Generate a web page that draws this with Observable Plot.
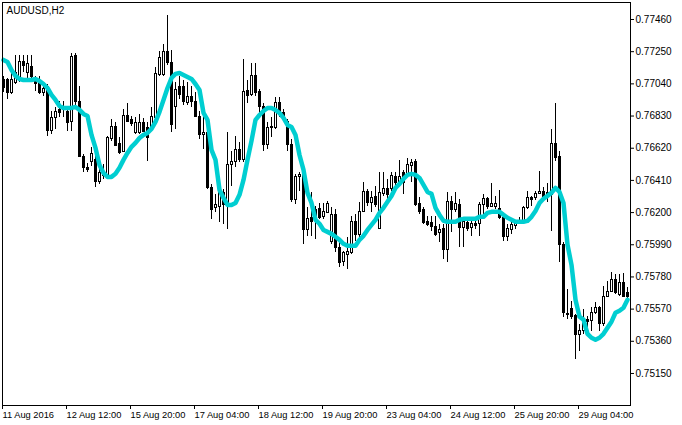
<!DOCTYPE html>
<html><head><meta charset="utf-8">
<script src="https://cdn.jsdelivr.net/npm/d3@7"></script>
<script src="https://cdn.jsdelivr.net/npm/@observablehq/plot@0.6"></script>
<style>html,body{margin:0;padding:0;background:#fff;}</style>
</head><body><div id="chart"></div>
<script>
const symbol = "AUDUSD,H2";
const open = [
0.77065,0.77065,0.76981,0.77046,0.77072,0.77183,0.77111,0.77150,0.77052,0.77046,
0.76981,0.77020,0.76733,0.76818,0.76870,0.76870,0.76857,0.76792,0.77222,0.76922,
0.76563,0.76492,0.76531,0.76544,0.76400,0.76440,0.76433,0.76681,0.76759,0.76648,
0.76596,0.76831,0.76805,0.76720,0.76720,0.76785,0.76752,0.76759,0.76818,0.77098,
0.77098,0.77248,0.77176,0.76889,0.77020,0.77020,0.76915,0.76955,0.76922,0.76824,
0.76707,0.76720,0.76361,0.76231,0.76237,0.76329,0.76250,0.76511,0.76531,0.76609,
0.76544,0.76994,0.76968,0.77091,0.76987,0.76889,0.76642,0.76752,0.76752,0.76915,
0.76850,0.76792,0.76642,0.76283,0.76433,0.76446,0.76087,0.76166,0.76218,0.76224,
0.76172,0.76198,0.76009,0.76185,0.75970,0.75879,0.75924,0.75937,0.76140,0.76055,
0.76205,0.76335,0.76263,0.76303,0.76094,0.76322,0.76355,0.76355,0.76433,0.76394,
0.76459,0.76446,0.76505,0.76531,0.76257,0.76218,0.76140,0.76133,0.76107,0.76068,
0.76094,0.75957,0.76270,0.76218,0.76250,0.76100,0.76133,0.76100,0.76127,0.76127,
0.76250,0.76290,0.76237,0.76237,0.76224,0.76166,0.76042,0.76087,0.76114,0.76140,
0.76140,0.76231,0.76296,0.76296,0.76322,0.76335,0.76329,0.76316,0.76648,0.76563,
0.75990,0.75533,0.75572,0.75527,0.75403,0.75429,0.75501,0.75494,0.75546,0.75579,
0.75475,0.75651,0.75683,0.75761,0.75664,0.75742,0.75677];
const high = [
0.77085,0.77078,0.77118,0.77228,0.77228,0.77228,0.77228,0.77228,0.77091,0.77085,
0.77020,0.77033,0.76857,0.76889,0.76922,0.76922,0.76889,0.77241,0.77241,0.77020,
0.76576,0.76518,0.76622,0.76609,0.76485,0.76511,0.76694,0.76805,0.76785,0.76687,
0.76870,0.76909,0.76824,0.76818,0.76837,0.76811,0.76785,0.76889,0.77144,0.77248,
0.77294,0.77489,0.77261,0.77052,0.77085,0.77065,0.77046,0.77020,0.76981,0.76857,
0.76824,0.76752,0.76381,0.76316,0.76400,0.76348,0.76720,0.76596,0.76694,0.76655,
0.77196,0.77065,0.77176,0.77170,0.77000,0.76915,0.76785,0.76818,0.76948,0.76948,
0.76870,0.76805,0.76674,0.76446,0.76459,0.76459,0.76231,0.76329,0.76237,0.76257,
0.76257,0.76270,0.76231,0.76218,0.76022,0.75944,0.76035,0.76172,0.76185,0.76263,
0.76394,0.76348,0.76335,0.76368,0.76459,0.76459,0.76413,0.76459,0.76459,0.76537,
0.76472,0.76550,0.76544,0.76544,0.76296,0.76231,0.76172,0.76172,0.76172,0.76120,
0.76120,0.76329,0.76303,0.76329,0.76283,0.76166,0.76153,0.76140,0.76153,0.76263,
0.76316,0.76296,0.76387,0.76303,0.76342,0.76172,0.76120,0.76140,0.76146,0.76166,
0.76237,0.76335,0.76303,0.76335,0.76466,0.76361,0.76387,0.76739,0.76915,0.76596,
0.76003,0.75696,0.75618,0.75533,0.75468,0.75566,0.75520,0.75579,0.75611,0.75585,
0.75716,0.75748,0.75807,0.75794,0.75794,0.75801,0.75709];
const low = [
0.76981,0.76935,0.76968,0.77033,0.77046,0.77111,0.77072,0.77052,0.76987,0.76968,
0.76955,0.76694,0.76707,0.76739,0.76818,0.76818,0.76726,0.76726,0.76889,0.76557,
0.76459,0.76459,0.76498,0.76361,0.76381,0.76413,0.76426,0.76661,0.76629,0.76576,
0.76589,0.76785,0.76765,0.76707,0.76707,0.76720,0.76531,0.76739,0.76805,0.77085,
0.77085,0.77157,0.76720,0.76739,0.76935,0.76902,0.76902,0.76883,0.76818,0.76674,
0.76609,0.76348,0.76153,0.76198,0.76133,0.76120,0.76087,0.76368,0.76492,0.76524,
0.76524,0.76915,0.76955,0.76955,0.76824,0.76596,0.76609,0.76687,0.76739,0.76818,
0.76805,0.76596,0.76263,0.76250,0.76335,0.75990,0.76042,0.76042,0.76022,0.76153,
0.76153,0.76192,0.75990,0.75937,0.75840,0.75846,0.75827,0.75924,0.76009,0.76009,
0.76198,0.76237,0.76198,0.76231,0.76087,0.76303,0.76263,0.76335,0.76361,0.76381,
0.76316,0.76433,0.76394,0.76237,0.76185,0.76120,0.76107,0.76074,0.76042,0.76003,
0.75892,0.75872,0.76068,0.76198,0.75970,0.75970,0.76074,0.76042,0.76087,0.76042,
0.76153,0.76218,0.76231,0.76218,0.76153,0.76009,0.76009,0.76055,0.76087,0.76120,
0.76133,0.76218,0.76237,0.76277,0.76316,0.76283,0.76263,0.76074,0.76531,0.75872,
0.75514,0.75501,0.75501,0.75240,0.75292,0.75403,0.75390,0.75423,0.75533,0.75423,
0.75455,0.75644,0.75677,0.75664,0.75651,0.75644,0.75618];
const close = [
0.77013,0.76981,0.77065,0.77111,0.77183,0.77157,0.77170,0.77085,0.77039,0.76981,
0.77007,0.76733,0.76818,0.76857,0.76850,0.76889,0.76785,0.77215,0.76922,0.76563,
0.76492,0.76479,0.76583,0.76400,0.76459,0.76459,0.76687,0.76759,0.76635,0.76589,
0.76831,0.76792,0.76779,0.76785,0.76785,0.76726,0.76687,0.76824,0.77105,0.77209,
0.77248,0.77176,0.76772,0.76999,0.76968,0.76922,0.76955,0.76922,0.76824,0.76707,
0.76720,0.76361,0.76218,0.76250,0.76329,0.76250,0.76511,0.76531,0.76609,0.76544,
0.76987,0.76961,0.77091,0.76981,0.76889,0.76642,0.76752,0.76759,0.76915,0.76857,
0.76811,0.76642,0.76283,0.76433,0.76446,0.76087,0.76159,0.76140,0.76159,0.76166,
0.76205,0.76257,0.76185,0.75970,0.75872,0.75937,0.75944,0.76140,0.76055,0.76205,
0.76335,0.76263,0.76296,0.76250,0.76329,0.76355,0.76316,0.76440,0.76394,0.76433,
0.76394,0.76511,0.76524,0.76250,0.76205,0.76133,0.76120,0.76107,0.76055,0.76087,
0.75957,0.76270,0.76218,0.76257,0.76100,0.76140,0.76094,0.76127,0.76114,0.76250,
0.76290,0.76237,0.76257,0.76257,0.76166,0.76042,0.76094,0.76120,0.76133,0.76146,
0.76231,0.76296,0.76283,0.76322,0.76335,0.76290,0.76303,0.76648,0.76557,0.75990,
0.75546,0.75540,0.75520,0.75403,0.75429,0.75501,0.75488,0.75546,0.75579,0.75475,
0.75651,0.75683,0.75761,0.75677,0.75742,0.75651,0.75651];
const ma = [
0.77196,0.77183,0.77131,0.77092,0.77072,0.77065,0.77065,0.77065,0.77072,0.77059,
0.77039,0.77013,0.76968,0.76935,0.76896,0.76883,0.76883,0.76883,0.76889,0.76870,
0.76844,0.76831,0.76707,0.76622,0.76511,0.76459,0.76433,0.76433,0.76453,0.76492,
0.76544,0.76589,0.76629,0.76655,0.76687,0.76707,0.76720,0.76746,0.76792,0.76857,
0.76935,0.77013,0.77078,0.77105,0.77111,0.77098,0.77085,0.77072,0.77039,0.77000,
0.76850,0.76805,0.76609,0.76544,0.76348,0.76296,0.76250,0.76250,0.76263,0.76316,
0.76413,0.76544,0.76668,0.76805,0.76837,0.76863,0.76883,0.76883,0.76870,0.76850,
0.76818,0.76772,0.76759,0.76707,0.76576,0.76479,0.76329,0.76263,0.76153,0.76127,
0.76087,0.76074,0.76061,0.76042,0.76022,0.75996,0.75983,0.75983,0.75983,0.76022,
0.76048,0.76087,0.76120,0.76153,0.76198,0.76231,0.76270,0.76309,0.76361,0.76387,
0.76420,0.76446,0.76453,0.76446,0.76426,0.76381,0.76335,0.76322,0.76231,0.76185,
0.76146,0.76140,0.76140,0.76140,0.76153,0.76159,0.76159,0.76159,0.76159,0.76172,
0.76172,0.76198,0.76205,0.76205,0.76205,0.76185,0.76166,0.76153,0.76140,0.76140,
0.76140,0.76146,0.76172,0.76211,0.76263,0.76290,0.76309,0.76329,0.76361,0.76335,
0.76263,0.75990,0.75859,0.75631,0.75520,0.75501,0.75409,0.75383,0.75370,0.75383,
0.75409,0.75449,0.75488,0.75546,0.75559,0.75579,0.75631];
const priceTicks = [0.77460,0.77250,0.77040,0.76830,0.76620,0.76410,0.76200,0.75990,0.75780,0.75570,0.75360,0.75150];
const timeTickBars = [0,16,32,48,64,80,96,112,128,144];
const timeTickLabels = ["11 Aug 2016","12 Aug 12:00","15 Aug 20:00","17 Aug 04:00","18 Aug 12:00","19 Aug 20:00","23 Aug 04:00","24 Aug 12:00","25 Aug 20:00","29 Aug 04:00"];

const bars = open.map((o, i) => ({i, open: o, high: high[i], low: low[i], close: close[i], ma: ma[i]}));
const font = "'Liberation Sans', Arial, sans-serif";

const chart = Plot.plot({
  width: 682, height: 425,
  marginLeft: 2, marginRight: 52, marginTop: 2, marginBottom: 20,
  style: {fontFamily: font, fontSize: "10px", background: "#fff", color: "#000", overflow: "visible"},
  x: {type: "linear", domain: [-0.25, 156.75]},
  y: {domain: [0.74941, 0.77571]},
  marks: [
    Plot.ruleX(bars, {x: "i", y1: "low", y2: "high", stroke: "#000", strokeWidth: 1, shapeRendering: "crispEdges"}),
    Plot.rect(bars, {x1: d => d.i - 0.25, x2: d => d.i + 0.25, y1: "open", y2: "close",
      fill: d => d.close >= d.open ? "#fff" : "#000", stroke: "#000", strokeWidth: 1, shapeRendering: "crispEdges"}),
    Plot.line(bars, {x: "i", y: "ma", stroke: "#00CED1", strokeWidth: 4.5, strokeLinejoin: "round"}),
    Plot.axisY({anchor: "right", ticks: priceTicks, tickFormat: d => d.toFixed(5), tickSize: 3, tickPadding: 2, label: null, fontSize: 10}),
    Plot.axisX({ticks: timeTickBars, tickFormat: i => timeTickLabels[timeTickBars.indexOf(i)], tickSize: 4, tickPadding: 2, textAnchor: "start", dx: -1, label: null, fontSize: 9.3}),
    Plot.frame({stroke: "#000", shapeRendering: "crispEdges"}),
    Plot.text([symbol], {frameAnchor: "top-left", dx: 4, dy: 4, lineAnchor: "top", textAnchor: "start", fontSize: 10, fill: "#000"})
  ]
});
document.getElementById("chart").appendChild(chart);
</script>
</body></html>
